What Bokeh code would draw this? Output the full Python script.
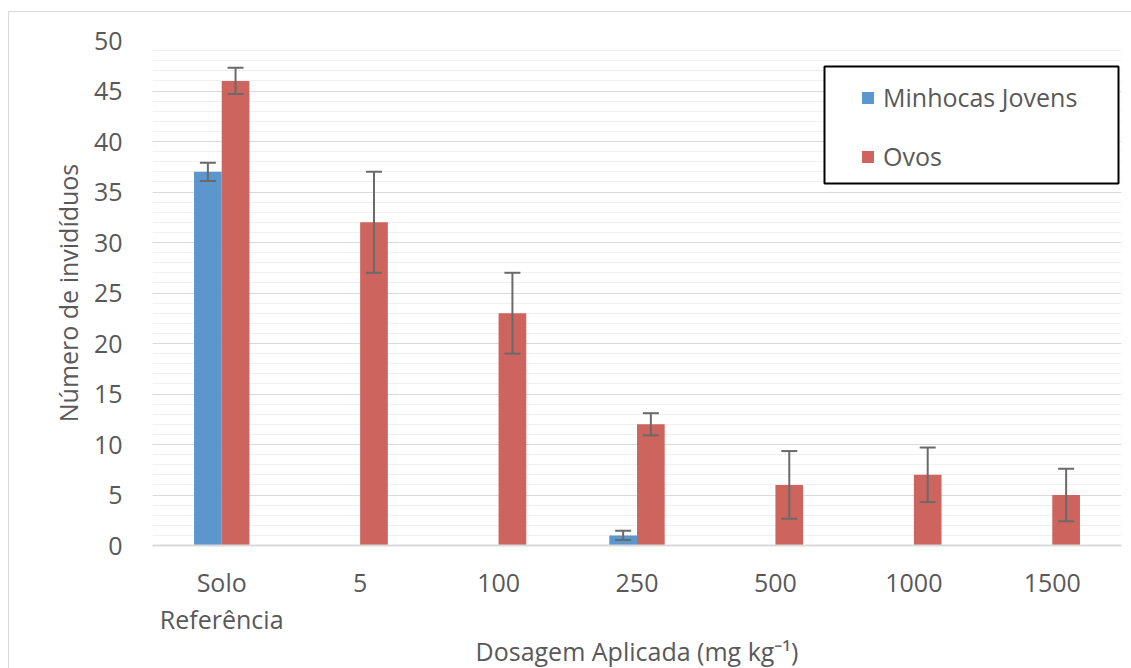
from bokeh.plotting import figure
from bokeh.models import (ColumnDataSource, FactorRange, Range1d, Whisker, Legend, LegendItem,
                          SingleIntervalTicker, BoxAnnotation, TeeHead)
from bokeh.transform import dodge
from bokeh.embed import file_html
from bokeh.resources import INLINE

categories = ["Solo\nReferência", "5", "100", "250", "500", "1000", "1500"]
minhocas = [37, 0, 0, 1, 0, 0, 0]
minhocas_err = [0.9, 0, 0, 0.45, 0, 0, 0]
ovos = [46, 32, 23, 12, 6, 7, 5]
ovos_err = [1.3, 5.0, 4.0, 1.1, 3.35, 2.7, 2.6]

series_names = ["Minhocas Jovens", "Ovos"]
colors = ["#5B96CC", "#CD645D"]
FONT = "Open Sans"
TXT = "#595959"

p = figure(frame_width=969, frame_height=505, x_range=FactorRange(*categories, range_padding=0),
           y_range=Range1d(0, 50), output_backend="svg", toolbar_location=None,
           min_border_left=143, min_border_right=10, min_border_top=28, min_border_bottom=100)
p.margin = (11, 0, 0, 8)
p.styles = {"border-left": "1px solid #d9d9d9", "border-top": "1px solid #d9d9d9"}
p.outline_line_color = None
p.background_fill_color = "white"
p.border_fill_color = "white"

src = ColumnDataSource(dict(x=categories, m=minhocas, me=minhocas_err, o=ovos, oe=ovos_err))

r1 = p.vbar(x=dodge("x", -0.1, range=p.x_range), top="m", width=0.2, source=src,
            fill_color=colors[0], line_color=None)
r2 = p.vbar(x=dodge("x", 0.1, range=p.x_range), top="o", width=0.2, source=src,
            fill_color=colors[1], line_color=None)

# error bars (only where an error exists)
def err_source(vals, errs):
    xs, lo, hi = [], [], []
    for c, v, e in zip(categories, vals, errs):
        if e > 0:
            xs.append(c); lo.append(v - e); hi.append(v + e)
    return ColumnDataSource(dict(x=xs, lower=lo, upper=hi))

for vals, errs, off in [(minhocas, minhocas_err, -0.1), (ovos, ovos_err, 0.1)]:
    es = err_source(vals, errs)
    w = Whisker(base=dodge("x", off, range=p.x_range), lower="lower", upper="upper", source=es,
                line_color="#6a6a6a", line_width=2, level="overlay",
                upper_head=TeeHead(size=16, line_color="#6a6a6a", line_width=2),
                lower_head=TeeHead(size=16, line_color="#6a6a6a", line_width=2))
    p.add_layout(w)

# axes
p.yaxis.ticker = SingleIntervalTicker(interval=5, num_minor_ticks=5)
p.yaxis.axis_line_color = None
p.yaxis.major_tick_line_color = None
p.yaxis.minor_tick_line_color = None
p.yaxis.major_label_standoff = 24
p.yaxis.axis_label = "Número de invidíduos"
p.yaxis.axis_label_standoff = 6

p.xaxis.axis_line_color = "#d9d9d9"
p.xaxis.axis_line_width = 2
p.xaxis.major_tick_line_color = None
p.xaxis.minor_tick_line_color = None
p.xaxis.major_label_standoff = 13
p.xaxis.axis_label = "Dosagem Aplicada (mg kg⁻¹)"
p.xaxis.axis_label_standoff = -5
p.xaxis.major_label_text_line_height = 1.1

for ax in [p.xaxis[0], p.yaxis[0]]:
    ax.major_label_text_font = FONT
    ax.major_label_text_font_size = "25px"
    ax.major_label_text_color = TXT
    ax.axis_label_text_font = FONT
    ax.axis_label_text_font_size = "25px"
    ax.axis_label_text_color = TXT
    ax.axis_label_text_font_style = "normal"

p.xgrid.grid_line_color = None
p.ygrid.grid_line_color = "#d9d9d9"
p.ygrid.grid_line_width = 1
p.ygrid.minor_grid_line_color = "#f0f0f0"
p.ygrid.minor_grid_line_width = 1

# legend box
p.add_layout(BoxAnnotation(left=814, right=1108, top=53, bottom=170,
                           left_units="canvas", right_units="canvas",
                           top_units="canvas", bottom_units="canvas",
                           fill_color="white", fill_alpha=1.0,
                           line_color="black", line_alpha=1.0, line_width=2,
                           level="annotation"))

legend = Legend(items=[LegendItem(label=series_names[0], renderers=[r1]),
                       LegendItem(label=series_names[1], renderers=[r2])],
                location=(708, 372), padding=0, margin=0,
                border_line_color=None, background_fill_alpha=0,
                glyph_width=15, glyph_height=15, label_standoff=8, spacing=25,
                label_text_font=FONT, label_text_font_size="25px", label_text_color=TXT)
p.add_layout(legend)

open("out.html", "w").write(file_html(p, INLINE))
